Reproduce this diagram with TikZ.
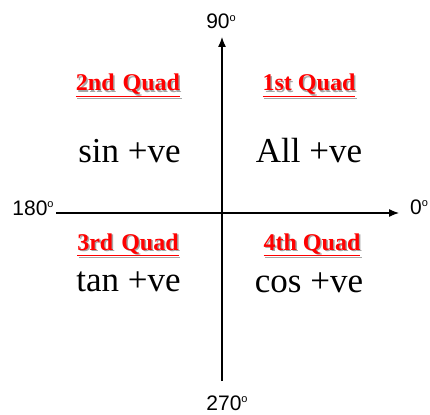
\documentclass[tikz,border=0pt]{standalone}
\usepackage{fontspec}
\setmainfont{Liberation Serif}
\newfontfamily\degfont{Liberation Sans}
\usetikzlibrary{arrows.meta}
\newcommand{\dgr}{{\fontsize{11}{11}\selectfont\raisebox{7.5pt}{o}}}
\newcommand{\qtitle}[1]{\underline{#1}}
\tikzset{
  axis/.style={line width=1.2pt, -{Latex[length=10pt,width=8pt]}},
  deg/.style={font=\degfont\fontsize{21}{21}\selectfont, inner sep=0pt, anchor=base},
  title/.style={font=\bfseries\fontsize{24}{24}\selectfont, text=red, inner sep=0pt, anchor=base},
  shadow/.style={font=\bfseries\fontsize{24}{24}\selectfont, text=black!35, inner sep=0pt, anchor=base},
  sign/.style={font=\fontsize{35}{35}\selectfont, inner sep=0pt, anchor=base}
}
\begin{document}
\begin{tikzpicture}[x=1pt,y=-1pt]
\useasboundingbox (0,0) rectangle (430,414);
\fill[white] (0,0) rectangle (430,414);
% axes
\coordinate (L) at (56,213);
\coordinate (R) at (399,213);
\coordinate (B) at (222,381);
\coordinate (T) at (222,37);
\draw[axis] (L) -- (R);
\draw[axis] (B) -- (T);
% degree labels
\node[deg] (d90) at (221,29) {90\dgr};
\node[deg] (d180) at (33,215) {180\dgr};
\node[deg] (d0) at (419,214) {0\dgr};
\node[deg] (d270) at (227,410) {270\dgr};
% quadrant titles with shadow
\node[shadow] (s2) at (129.5,92.5) {\qtitle{2nd\,\,Quad}};
\node[title] (q2) at (128,91) {\qtitle{2nd\,\,Quad}};
\node[shadow] (s1) at (310.5,92.5) {\qtitle{1st Quad}};
\node[title] (q1) at (309,91) {\qtitle{1st Quad}};
\node[shadow] (s3) at (129.5,251.5) {\qtitle{3rd\,\,Quad}};
\node[title] (q3) at (128,250) {\qtitle{3rd\,\,Quad}};
\node[shadow] (s4) at (313.5,251.5) {\qtitle{4th Quad}};
\node[title] (q4) at (312,250) {\qtitle{4th Quad}};
% signs
\node[sign] (sin) at (129.5,162) {sin +ve};
\node[sign] (all) at (309,162) {All +ve};
\node[sign] (tan) at (128.5,291) {tan +ve};
\node[sign] (cos) at (309,292) {cos +ve};
\end{tikzpicture}
\end{document}
